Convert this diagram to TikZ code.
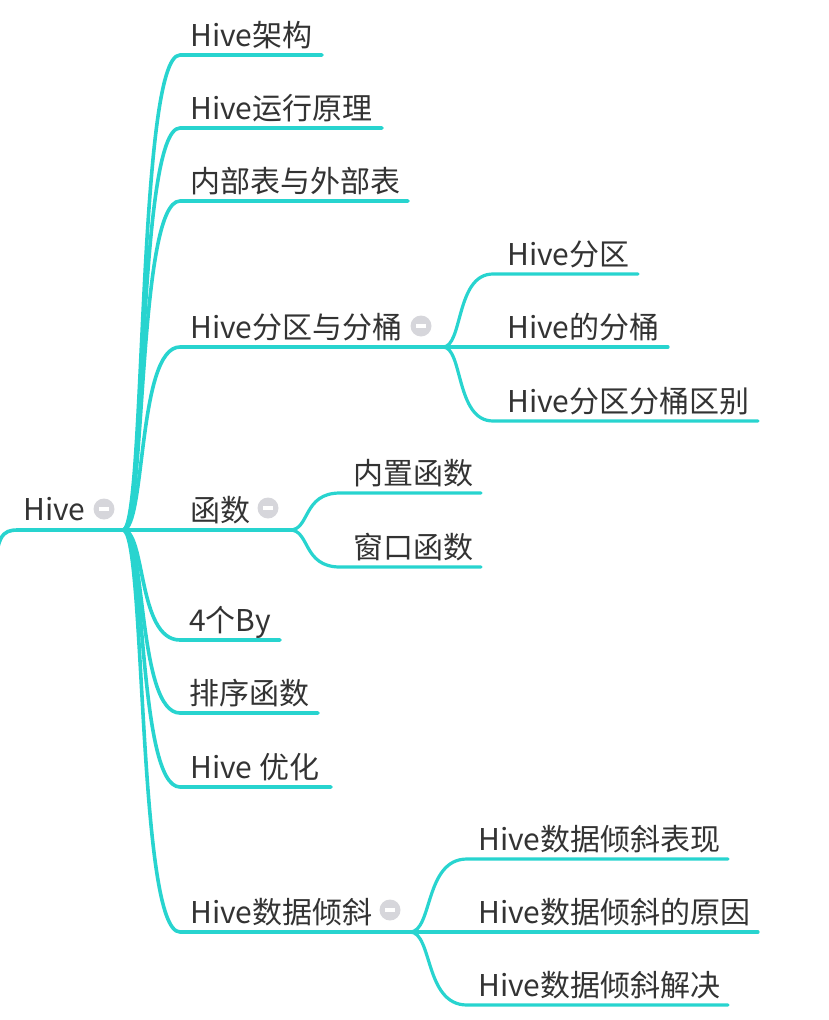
\documentclass[tikz,border=0pt]{standalone}
\usepackage{fontspec}
\setmainfont{Noto Sans CJK SC}
\usetikzlibrary{calc}
\definecolor{mmline}{RGB}{40,212,207}
\definecolor{mmtext}{RGB}{51,51,51}
\definecolor{mmicon}{RGB}{214,214,219}
\tikzset{
  lbl/.style={anchor=base west, inner sep=0pt, text=mmtext, font=\fontsize{30}{32}\selectfont},
  mainline/.style={draw=mmline, line width=3.6pt, line cap=round},
  subline/.style={draw=mmline, line width=3.2pt, line cap=round},
  icon/.style={circle, fill=mmicon, minimum size=21pt, inner sep=0pt,
    path picture={\fill[white] ($(path picture bounding box.center)+(-5pt,-1.6pt)$) rectangle ($(path picture bounding box.center)+(5pt,1.6pt)$);}}
}
\newcommand\mmbranch[4]{%
  \draw[#4] let \p1=(#1), \p2=(#2) in (#1) .. controls ({\x1+0.4*(\x2-\x1)},\y1) and ({\x1+0.25*(\x2-\x1)},\y2) .. (#2) -- (#3);}
\begin{document}
\begin{tikzpicture}[x=1pt,y=-1pt]
\useasboundingbox (0,0) rectangle (828,1020);
% root
\coordinate (parent) at (-6,585);
\coordinate (rs) at (18,530);
\coordinate (J) at (123,530);
\node[lbl] (root) at (23,520) {Hive};
\node[icon] (iroot) at (104,509) {};
\draw[mainline] (parent) .. controls (-4,535) and (2,530) .. (rs) -- (J);
% main children
\coordinate (a1s) at (180,55);  \coordinate (a1e) at (322,55);
\coordinate (a2s) at (180,128); \coordinate (a2e) at (382,128);
\coordinate (a3s) at (180,201); \coordinate (a3e) at (408,201);
\coordinate (a4s) at (180,347); \coordinate (J2) at (443,347);
\coordinate (a5s) at (180,530); \coordinate (J3) at (290,530);
\coordinate (a6s) at (180,640); \coordinate (a6e) at (280,640);
\coordinate (a7s) at (180,713); \coordinate (a7e) at (318,713);
\coordinate (a8s) at (180,787); \coordinate (a8e) at (331,787);
\coordinate (a9s) at (180,932); \coordinate (J4) at (410,932);
\mmbranch{J}{a1s}{a1e}{mainline}
\mmbranch{J}{a2s}{a2e}{mainline}
\mmbranch{J}{a3s}{a3e}{mainline}
\mmbranch{J}{a4s}{J2}{mainline}
\draw[mainline] (J) -- (a5s) -- (J3);
\mmbranch{J}{a6s}{a6e}{mainline}
\mmbranch{J}{a7s}{a7e}{mainline}
\mmbranch{J}{a8s}{a8e}{mainline}
\mmbranch{J}{a9s}{J4}{mainline}
\node[lbl] (t1) at (190,46) {Hive架构};
\node[lbl] (t2) at (190,119) {Hive运行原理};
\node[lbl] (t3) at (190,192) {内部表与外部表};
\node[lbl] (t4) at (190,338) {Hive分区与分桶};
\node[icon] (i4) at (421,326) {};
\node[lbl] (t5) at (190,521) {函数};
\node[icon] (i5) at (268,508) {};
\node[lbl] (t6) at (189,631) {4个By};
\node[lbl] (t7) at (189,704) {排序函数};
\node[lbl] (t8) at (190,778) {Hive 优化};
\node[lbl] (t9) at (190,923) {Hive数据倾斜};
\node[icon] (i9) at (390,910) {};
% partition subtree
\coordinate (b1s) at (493,274); \coordinate (b1e) at (638,274);
\coordinate (b2s) at (493,347); \coordinate (b2e) at (668,347);
\coordinate (b3s) at (493,421); \coordinate (b3e) at (758,421);
\mmbranch{J2}{b1s}{b1e}{subline}
\draw[subline] (J2) -- (b2s) -- (b2e);
\mmbranch{J2}{b3s}{b3e}{subline}
\node[lbl] (u1) at (507,265) {Hive分区};
\node[lbl] (u2) at (507,338) {Hive的分桶};
\node[lbl] (u3) at (507,412) {Hive分区分桶区别};
% function subtree
\coordinate (c1s) at (340,493); \coordinate (c1e) at (481,493);
\coordinate (c2s) at (340,567); \coordinate (c2e) at (481,567);
\mmbranch{J3}{c1s}{c1e}{subline}
\mmbranch{J3}{c2s}{c2e}{subline}
\node[lbl] (v1) at (353,484) {内置函数};
\node[lbl] (v2) at (353,558) {窗口函数};
% skew subtree
\coordinate (d1s) at (467,859);  \coordinate (d1e) at (728,859);
\coordinate (d2s) at (467,932);  \coordinate (d2e) at (758,932);
\coordinate (d3s) at (467,1005); \coordinate (d3e) at (728,1005);
\mmbranch{J4}{d1s}{d1e}{subline}
\draw[subline] (J4) -- (d2s) -- (d2e);
\mmbranch{J4}{d3s}{d3e}{subline}
\node[lbl] (w1) at (478,850) {Hive数据倾斜表现};
\node[lbl] (w2) at (478,923) {Hive数据倾斜的原因};
\node[lbl] (w3) at (478,996) {Hive数据倾斜解决};
\end{tikzpicture}
\end{document}
